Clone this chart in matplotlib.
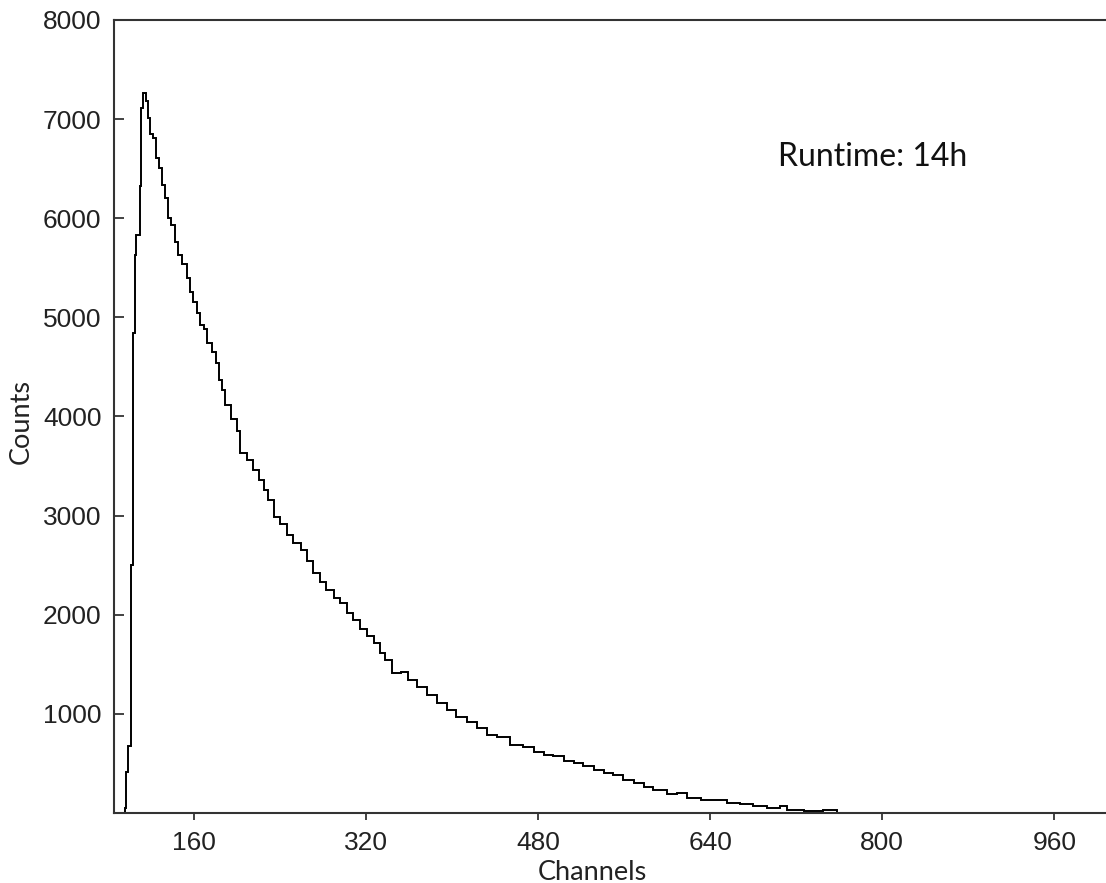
import matplotlib
matplotlib.use("Agg")
import matplotlib.pyplot as plt
import numpy as np

plt.rcParams["font.family"] = "Liberation Sans"

# bin edges (channels) and counts
edges = [86, 96, 97, 99, 101, 103, 105, 106, 110, 111, 113, 115, 117, 119, 122,
         125, 127, 130, 133, 136, 139, 142, 145, 149, 153, 156, 159, 163, 166,
         169, 172, 177, 180, 183, 186, 189, 194, 200, 203, 209, 215, 220, 225,
         229, 234, 240, 246, 252, 259, 265, 271, 277, 283, 290, 296, 302, 308,
         314, 321, 327, 333, 338, 344, 352, 359, 367, 377, 386, 395, 404, 414,
         423, 432, 442, 454, 466, 476, 485, 494, 504, 513, 522, 532, 541, 550,
         559, 569, 578, 587, 600, 609, 618, 631, 643, 656, 668, 680, 693, 705,
         711, 727, 745, 758, 1024]
counts = [0, 50, 416, 673, 2506, 4838, 5630, 5832, 6320, 7111, 7263, 7178, 7010,
          6850, 6808, 6606, 6510, 6337, 6202, 6000, 5933, 5764, 5630, 5540, 5394,
          5259, 5158, 5040, 4923, 4880, 4737, 4653, 4540, 4370, 4270, 4120, 3970,
          3850, 3630, 3560, 3460, 3360, 3260, 3160, 2990, 2920, 2805, 2720, 2655,
          2540, 2420, 2335, 2250, 2165, 2115, 2015, 1950, 1860, 1785, 1715, 1615,
          1545, 1410, 1425, 1345, 1275, 1190, 1105, 1040, 970, 920, 855, 785, 770,
          685, 670, 620, 585, 570, 520, 500, 470, 435, 400, 385, 335, 300, 265,
          230, 195, 205, 155, 135, 130, 100, 90, 70, 55, 70, 35, 20, 25, 0]

xticks = [160, 320, 480, 640, 800, 960]
yticks = [1000, 2000, 3000, 4000, 5000, 6000, 7000, 8000]

W, H = 1106, 883
fig = plt.figure(figsize=(W / 100, H / 100), dpi=100)
ax = fig.add_axes([0.1031, 0.0793, 0.8969, 0.8981])

ax.stairs(counts, edges, color="black", lw=1.4)

ax.set_xlim(85.6, 1008)
ax.set_ylim(0, 8000)
ax.set_xticks(xticks)
ax.set_yticks(yticks)
ax.tick_params(axis="x", direction="out", length=5, width=1.2, pad=8,
               colors="#222222", labelsize=19)
ax.tick_params(axis="y", direction="in", length=7, width=1.2, pad=9,
               colors="#222222", labelsize=19)
for s in ("left", "bottom", "top"):
    ax.spines[s].set_linewidth(1.5)
    ax.spines[s].set_color("#333333")
ax.spines["right"].set_visible(False)

# axis labels placed by pixel centre
lblfont = dict(family="Lato", size=19.5, color="#222222", ha="center", va="center")
fig.text(592 / W, 1 - 872 / H, "Channels", **lblfont)
fig.text(21 / W, 1 - 421 / H, "Counts", rotation=90, **lblfont)

ax.text((778 - 114) / 992, (813 - 157) / 793, "Runtime: 14h", transform=ax.transAxes,
        ha="left", va="center", family="Lato", size=23, color="#111111")

fig.savefig("out.png", dpi=100)
